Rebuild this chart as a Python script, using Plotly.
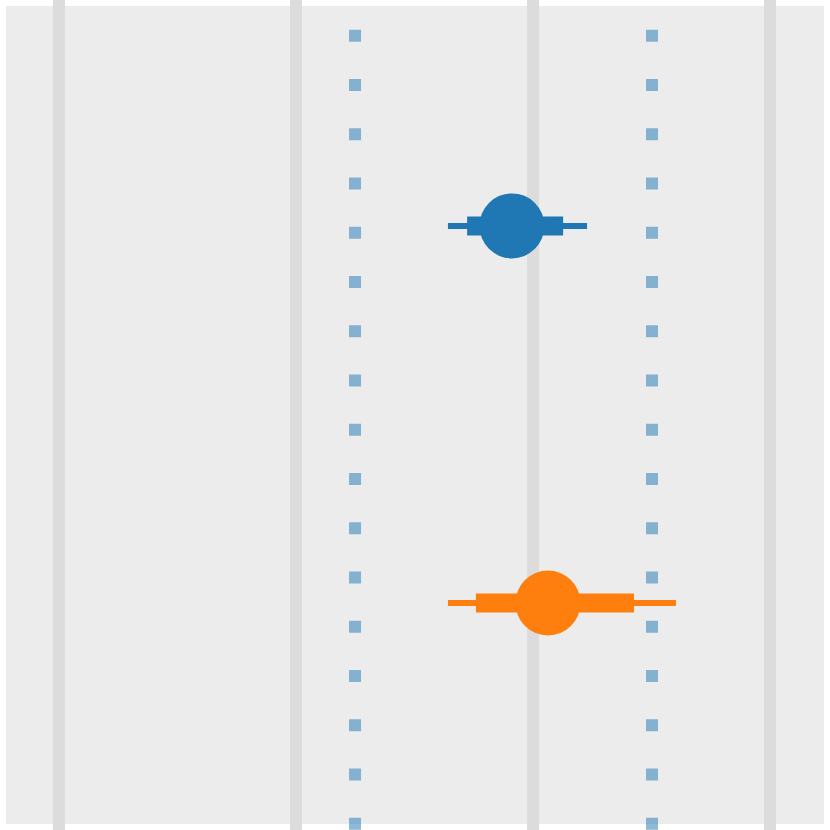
import plotly.graph_objects as go

# estimates and intervals, one per row (top row first)
rows = [1, 0]
estimate = [1.911, 2.063]
inner_low = [1.722, 1.759]
inner_high = [2.127, 2.426]
outer_low = [1.641, 1.641]
outer_high = [2.228, 2.603]
row_colors = ["#1f77b4", "#ff7f0e"]

# dotted reference lines
ref_x = [1.249, 2.502]
grid_ticks = [0, 1, 2, 3]

fig = go.Figure()

for x in ref_x:
    fig.add_trace(go.Scatter(
        x=[x, x], y=[1.5198, -0.7], mode="lines",
        line={"color": "#1f77b4", "width": 12, "dash": "12px,37.25px"},
        opacity=0.5, hoverinfo="skip",
    ))

for i, row in enumerate(rows):
    color = row_colors[i]
    fig.add_trace(go.Scatter(
        x=[outer_low[i], outer_high[i]], y=[row, row], mode="lines",
        line={"color": color, "width": 6}, hoverinfo="skip",
    ))
    fig.add_trace(go.Scatter(
        x=[inner_low[i], inner_high[i]], y=[row, row], mode="lines",
        line={"color": color, "width": 19}, hoverinfo="skip",
    ))
    fig.add_trace(go.Scatter(
        x=[estimate[i]], y=[row], mode="markers",
        marker={"color": color, "size": 65, "line": {"width": 0}},
    ))

# grey panel behind the grid
fig.add_shape(
    type="rect", xref="paper", yref="paper",
    x0=6 / 830, x1=824 / 830, y0=6 / 830, y1=824 / 830,
    fillcolor="#ececec", line={"width": 0}, layer="below",
)

fig.update_layout(
    width=830, height=830,
    margin={"l": 0, "r": 0, "t": 0, "b": 0},
    paper_bgcolor="white", plot_bgcolor="white",
    showlegend=False,
    xaxis={
        "range": [-0.249, 3.253], "tickvals": grid_ticks, "showticklabels": False,
        "showgrid": True, "gridcolor": "#dcdcdc", "gridwidth": 12,
        "zeroline": False, "showline": False, "ticks": "",
    },
    yaxis={
        "range": [-0.602, 1.599], "showgrid": False, "showticklabels": False,
        "zeroline": False, "showline": False, "ticks": "",
    },
)

# drop the page margin so the figure sits at the window's corner
fig.write_html(
    "out.html",
    config={"displayModeBar": False},
    post_script="document.body.style.margin = '0';",
)
